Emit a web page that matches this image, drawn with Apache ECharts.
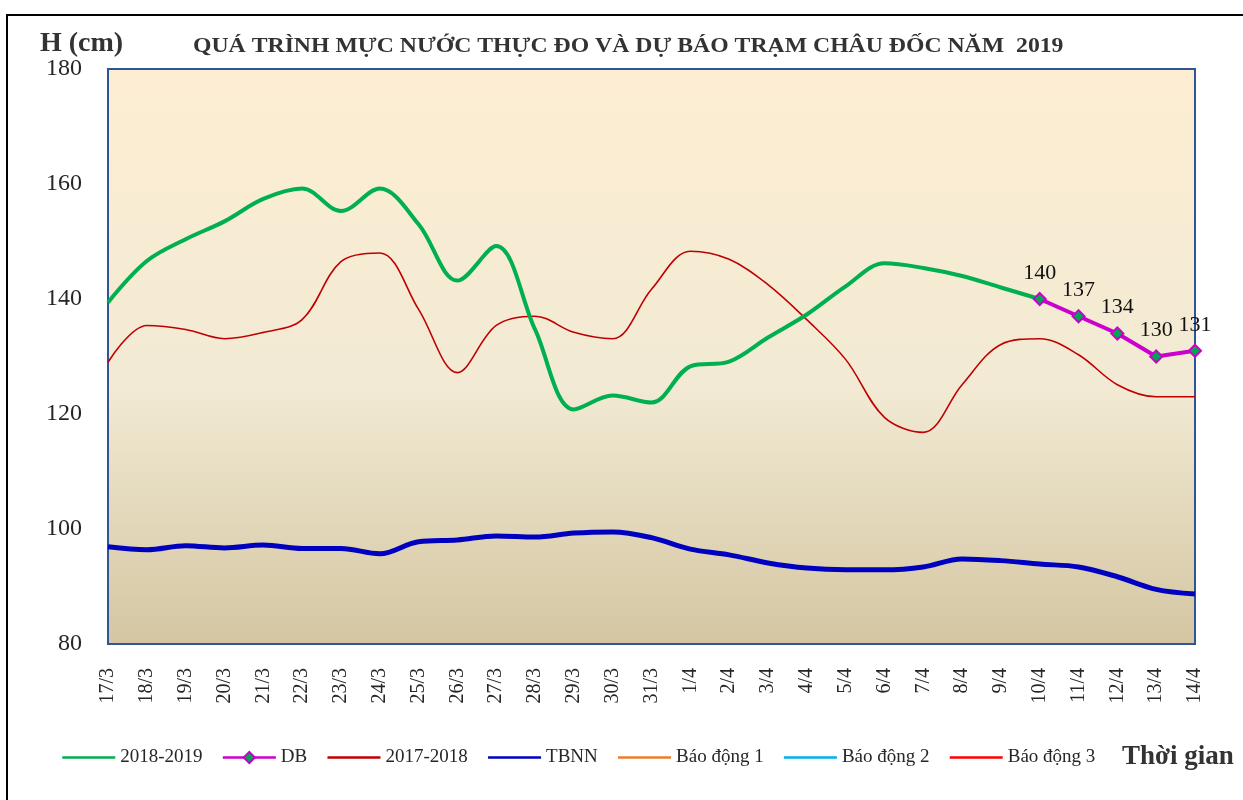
<!DOCTYPE html>
<html>
<head>
<meta charset="utf-8">
<title>Châu Đốc 2019</title>
<script src="https://cdn.jsdelivr.net/npm/echarts@6/dist/echarts.min.js"></script>
<style>
    html, body { margin: 0; padding: 0; background: #fff; }
    #chart { width: 1243px; height: 800px; }
</style>
</head>
<body>
<div id="chart"></div>
<script>
// ngay
var categories = ['17/3', '18/3', '19/3', '20/3', '21/3', '22/3', '23/3', '24/3', '25/3', '26/3',
    '27/3', '28/3', '29/3', '30/3', '31/3', '1/4', '2/4', '3/4', '4/4', '5/4', '6/4', '7/4',
    '8/4', '9/4', '10/4', '11/4', '12/4', '13/4', '14/4'];

// thuc do 2018-2019
var h2019 = [139.4, 146.6, 150.4, 153.5, 157.4, 159.2, 155.3, 159.2, 153, 143.2,
    149.2, 134.7, 120.8, 123.2, 122, 128.3, 129.1, 133.3, 137.3, 142.2, 146.2, 145.4,
    144, 142, 140];

// du bao
var dbValues = ['-', '-', '-', '-', '-', '-', '-', '-', '-', '-', '-', '-', '-', '-', '-',
    '-', '-', '-', '-', '-', '-', '-', '-', '-', 140, 137, 134, 130, 131];

// cung ky 2017-2018
var h2018 = [129, 135.4, 134.7, 133.1, 134.2, 136.4, 146.5, 148, 138.2, 127.2,
    135.4, 137, 134.2, 133.1, 141.7, 148.3, 146.9, 142.5, 136.4, 129.5, 119.4, 116.8,
    125.1, 132.1, 133.1, 130.3, 125.1, 123, 123];

// trung binh nhieu nam
var tbnn = [96.9, 96.4, 97.1, 96.7, 97.2, 96.6, 96.6, 95.7, 97.8, 98.1,
    98.8, 98.6, 99.3, 99.5, 98.5, 96.5, 95.5, 94.1, 93.2, 92.9, 92.9, 93.4,
    94.8, 94.5, 93.9, 93.4, 91.7, 89.5, 88.7];

var yTicks = { min: 80, max: 180, step: 20 };

var font = "'Liberation Serif', 'Times New Roman', serif";

var myChart = echarts.init(document.getElementById('chart'));

// chi hien duong, an cham tron trong chu giai
function legendLine(name) {
    return { name: name, itemStyle: { opacity: 0 } };
}

var option = {
    animation: false,
    textStyle: { fontFamily: font, color: '#262626' },
    graphic: [
        {
            type: 'rect',
            shape: { x: 7, y: 15, width: 1300, height: 900 },
            style: { fill: 'none', stroke: '#000', lineWidth: 2 },
            z: -1
        },
        {
            type: 'text',
            left: 40, top: 30,
            style: { text: 'H (cm)', font: 'bold 28px ' + font, fill: '#333' }
        },
        {
            type: 'text',
            x: 193, y: 36,
            scaleX: 1.13,
            style: { text: 'QUÁ TRÌNH MỰC NƯỚC THỰC ĐO VÀ DỰ BÁO TRẠM CHÂU ĐỐC NĂM  2019', font: 'bold 21px ' + font, fill: '#333' }
        },
        {
            type: 'text',
            left: 1122, top: 744,
            style: { text: 'Thời gian', font: 'bold 27px ' + font, fill: '#333' }
        }
    ],
    grid: {
        left: 108,
        right: 48,
        top: 69,
        bottom: 156,
        show: true,
        borderColor: '#2F5597',
        borderWidth: 2,
        backgroundColor: new echarts.graphic.LinearGradient(0, 0, 0, 1, [
            { offset: 0, color: '#FDEED2' },
            { offset: 0.55, color: '#F2EAD4' },
            { offset: 1, color: '#D4C6A2' }
        ])
    },
    legend: {
        left: 56,
        top: 743,
        itemWidth: 53,
        itemHeight: 14,
        itemGap: 19,
        lineStyle: { width: 2.5 },
        textStyle: { fontFamily: font, fontSize: 19, color: '#262626' },
        data: [
            legendLine('2018-2019'),
            { name: 'DB' },
            legendLine('2017-2018'),
            legendLine('TBNN'),
            legendLine('Báo động 1'),
            legendLine('Báo động 2'),
            legendLine('Báo động 3')
        ]
    },
    xAxis: {
        type: 'category',
        boundaryGap: false,
        data: categories,
        axisLine: { show: false },
        axisTick: { show: false },
        axisLabel: {
            rotate: 90,
            interval: 0,
            margin: 24,
            fontSize: 20,
            fontFamily: font,
            color: '#262626'
        }
    },
    yAxis: {
        type: 'value',
        min: yTicks.min,
        max: yTicks.max,
        interval: yTicks.step,
        axisLine: { show: false },
        axisTick: { show: false },
        splitLine: { show: false },
        axisLabel: {
            margin: 26,
            fontSize: 24,
            fontFamily: font,
            color: '#262626'
        }
    },
    series: [
        {
            name: '2018-2019',
            type: 'line',
            data: h2019,
            smooth: 0.35,
            symbol: 'none',
            lineStyle: { color: '#00B050', width: 4 },
            itemStyle: { color: '#00B050' },
            z: 3
        },
        {
            name: 'DB',
            type: 'line',
            data: dbValues,
            symbol: 'diamond',
            symbolSize: 12,
            lineStyle: { color: '#CC00CC', width: 4 },
            itemStyle: { color: '#00A651', borderColor: '#CC00CC', borderWidth: 2 },
            label: {
                show: true,
                position: 'top',
                distance: 8,
                fontSize: 22,
                fontFamily: font,
                color: '#111'
            },
            z: 5
        },
        {
            name: '2017-2018',
            type: 'line',
            data: h2018,
            smooth: 0.35,
            symbol: 'none',
            lineStyle: { color: '#C00000', width: 1.6 },
            itemStyle: { color: '#C00000' },
            z: 2
        },
        {
            name: 'TBNN',
            type: 'line',
            data: tbnn,
            smooth: 0.35,
            symbol: 'none',
            lineStyle: { color: '#0000C0', width: 5 },
            itemStyle: { color: '#0000C0' },
            z: 2
        },
        { name: 'Báo động 1', type: 'line', data: [], symbol: 'none', lineStyle: { color: '#ED7D31', width: 2 }, itemStyle: { color: '#ED7D31' } },
        { name: 'Báo động 2', type: 'line', data: [], symbol: 'none', lineStyle: { color: '#00B0F0', width: 2 }, itemStyle: { color: '#00B0F0' } },
        { name: 'Báo động 3', type: 'line', data: [], symbol: 'none', lineStyle: { color: '#FF0000', width: 2 }, itemStyle: { color: '#FF0000' } }
    ]
};

myChart.setOption(option);
window.addEventListener('resize', function () { myChart.resize(); });
</script>
</body>
</html>
